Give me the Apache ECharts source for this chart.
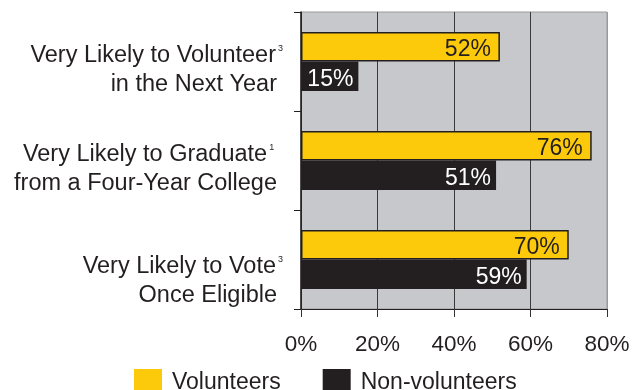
<!DOCTYPE html>
<html>
<head>
<meta charset="utf-8">
<script src="https://cdn.jsdelivr.net/npm/echarts@6/dist/echarts.min.js"></script>
<style>
html,body{margin:0;padding:0;background:#fff;}
#chart{width:633px;height:390px;}
</style>
</head>
<body>
<div id="chart"></div>
<script>
const categoriesLine1 = ['Very Likely to Volunteer', 'Very Likely to Graduate', 'Very Likely to Vote'];
const categoriesLine2 = ['in the Next Year', 'from a Four-Year College', 'Once Eligible'];
const footnotes = ['3', '1', '3'];
const seriesNames = ['Volunteers', 'Non-volunteers'];
const volunteers = [52, 76, 70];
const nonVolunteers = [15, 51, 59];
const xTicks = [0, 20, 40, 60, 80];

const FONT = '"Liberation Sans", Arial, Helvetica, sans-serif';
const INK = '#231F20';
const labelShift = [17, 17, 43];

const yData = categoriesLine1.map((c, i) => ({
  value: '{a|' + c + '}{s|' + footnotes[i] + '}\n{b|' + categoriesLine2[i] + '}',
  textStyle: { padding: [labelShift[i], 0, 0, 0] }
}));

const chart = echarts.init(document.getElementById('chart'), null, { renderer: 'canvas' });
chart.setOption({
  animation: false,
  textStyle: { fontFamily: FONT },
  grid: {
    left: 301, right: 26, top: 12, bottom: 81,
    show: true, backgroundColor: '#C7C8CC', borderColor: '#9A9A9A', borderWidth: 1
  },
  legend: {
    left: 129, top: 364,
    itemWidth: 28, itemHeight: 28, itemGap: 42,
    icon: 'rect',
    itemStyle: { borderWidth: 0 },
    textStyle: { fontSize: 23, color: INK, fontFamily: FONT, padding: [0, 0, 6, 5] },
    data: seriesNames
  },
  xAxis: {
    type: 'value', min: xTicks[0], max: xTicks[xTicks.length - 1], interval: 20,
    axisLine: { show: true, lineStyle: { color: INK, width: 1 } },
    axisTick: { show: true, length: 8, lineStyle: { color: '#333' } },
    axisLabel: { formatter: '{value}%', fontSize: 22.5, color: INK, margin: 24, fontFamily: FONT },
    splitLine: { show: true, lineStyle: { color: ['#3A3A3A', '#3A3A3A', '#3A3A3A', '#3A3A3A', '#9A9A9A'], width: 1 } }
  },
  yAxis: {
    type: 'category', inverse: true,
    data: yData,
    axisLine: { show: true, lineStyle: { color: INK, width: 1.5 } },
    axisTick: { show: true, length: 7, lineStyle: { color: INK } },
    axisLabel: {
      margin: 17, color: INK, fontFamily: FONT,
      rich: {
        a: { fontSize: 23.5, lineHeight: 28.5, color: INK, fontFamily: FONT },
        b: { fontSize: 23.5, lineHeight: 28.5, color: INK, fontFamily: FONT, padding: [0, 7, 0, 0] },
        s: { fontSize: 9, lineHeight: 10, verticalAlign: 'top', color: INK, fontFamily: FONT, width: 7, align: 'left', padding: [3, 0, 0, 1] }
      }
    }
  },
  series: [
    {
      name: seriesNames[0], type: 'bar', data: volunteers,
      barWidth: 29.5, barGap: '0%',
      itemStyle: { color: '#FDCA0B', borderColor: INK, borderWidth: 1.5 },
      label: { show: true, position: 'insideRight', distance: 9, formatter: '{c}%', fontSize: 23, color: INK, fontFamily: FONT, offset: [0, 3] }
    },
    {
      name: seriesNames[1], type: 'bar', data: nonVolunteers,
      barWidth: 29.5, barGap: '0%',
      itemStyle: { color: INK },
      label: { show: true, position: 'insideRight', distance: 5, formatter: '{c}%', fontSize: 23, color: '#FFFFFF', fontFamily: FONT, offset: [0, 3] }
    }
  ]
});
</script>
</body>
</html>
